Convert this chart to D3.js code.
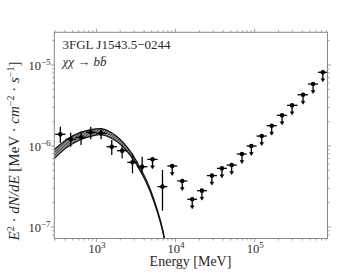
<!DOCTYPE html>
<html><head><meta charset="utf-8">
<script src="https://cdn.jsdelivr.net/npm/d3@7"></script>
<style>
html,body{margin:0;padding:0;background:#fff;}
</style></head>
<body><svg id="c" width="363" height="273"></svg>
<script>
// ---- data ----
const energy = [350, 473, 640, 847, 1146, 1563, 2114, 2858, 3784, 5117, 6839, 9078, 12162, 16255, 21528, 28774, 38548, 51168, 69024, 90782, 122744, 164059, 221820, 297167, 408319, 547016, 726106];
const flux = [1.393e-6, 1.211e-6, 1.279e-6, 1.476e-6, 1.436e-6, 9.80e-7, 8.75e-7, 6.29e-7, 5.55e-7, 6.84e-7, 3.15e-7, 5.66e-7, 3.70e-7, 2.20e-7, 2.81e-7, 4.31e-7, 5.30e-7, 5.82e-7, 7.96e-7, 1.0e-6, 1.327e-6, 1.782e-6, 2.393e-6, 3.177e-6, 4.295e-6, 5.821e-6, 8.13e-6];
const fluxHigh = [1.730e-6, 1.459e-6, 1.503e-6, 1.730e-6, 1.656e-6, 1.186e-6, 1.028e-6, 8.13e-7, 7.38e-7, null, 5.06e-7, null, null, null, null, null, null, null, null, null, null, null, null, null, null, null, null];
const fluxLow = [1.099e-6, 9.82e-7, 1.028e-6, 1.211e-6, 1.211e-6, 7.74e-7, 7.05e-7, 4.60e-7, 4.60e-7, null, 1.59e-7, null, null, null, null, null, null, null, null, null, null, null, null, null, null, null, null];
const upperLimit = [false, false, false, false, false, false, false, false, false, true, false, true, true, true, true, true, true, true, true, true, true, true, true, true, true, true, true];
// model curve (chi chi -> b bbar)
const modelE = [294, 426, 627, 925, 1125, 1365, 1828, 2449, 2965, 3606, 4385, 5309, 6457, 7261, 7499];
const modelF = [7.96e-7, 1.079e-6, 1.327e-6, 1.476e-6, 1.503e-6, 1.435e-6, 1.211e-6, 9.10e-7, 7.05e-7, 5.06e-7, 3.47e-7, 2.15e-7, 1.16e-7, 7.05e-8, 5.6e-8];
const modelBandDex = [0.055, 0.05, 0.045, 0.04, 0.038, 0.036, 0.032, 0.027, 0.022, 0.018, 0.016, 0.014, 0.013, 0.012, 0.012];
const xMajorTicks = [1e3, 1e4, 1e5];
const xMajorLabels = ["3", "4", "5"];
const yMajorTicks = [1e-7, 1e-6, 1e-5];
const yMajorLabels = ["\u22127", "\u22126", "\u22125"];
const sourceName = "3FGL J1543.5\u22120244";
const xTitle = "Energy [MeV]";

// ---- drawing ----
const FONT = "Liberation Serif";
const TXT = "#2a2a2a";
const svg = d3.select("#c");
const L = 54.3, R = 327.5, T = 32.3, B = 238.5;
const x = d3.scaleLog().domain([Math.pow(10, 2.468), Math.pow(10, 5.92)]).range([L, R]);
const y = d3.scaleLog().domain([Math.pow(10, -7.142), Math.pow(10, -4.596)]).range([B, T]);
const axisCol = "#888";

const defs = svg.append("defs");
defs.append("clipPath").attr("id", "clip").append("rect")
  .attr("x", L).attr("y", T).attr("width", R - L).attr("height", B - T);
const pat = defs.append("pattern").attr("id", "hatch").attr("patternUnits", "userSpaceOnUse")
  .attr("width", 3).attr("height", 3);
pat.append("rect").attr("width", 3).attr("height", 3).attr("fill", "#8a8a8a");
pat.append("path").attr("d", "M0,3L3,0").attr("stroke", "#333").attr("stroke-width", 0.7);

// model band
const band = modelE.map((e, i) => ({e, f: modelF[i], lo: modelF[i] / Math.pow(10, modelBandDex[i]), hi: modelF[i] * Math.pow(10, modelBandDex[i])}));
const g = svg.append("g").attr("clip-path", "url(#clip)");
g.append("path").datum(band)
  .attr("d", d3.area().x(d => x(d.e)).y0(d => y(d.lo)).y1(d => y(d.hi)).curve(d3.curveCatmullRom))
  .attr("fill", "url(#hatch)").attr("stroke", "none");
["lo", "hi"].forEach(k => {
  g.append("path").datum(band)
    .attr("d", d3.line().x(d => x(d.e)).y(d => y(d[k])).curve(d3.curveCatmullRom))
    .attr("fill", "none").attr("stroke", "#111").attr("stroke-width", 1.2);
});

// data points
const pts = energy.map((e, i) => {
  const lo = i > 0 ? Math.sqrt(energy[i - 1] * e) : e * e / Math.sqrt(energy[i + 1] * e);
  const hi = i < energy.length - 1 ? Math.sqrt(energy[i + 1] * e) : e * e / Math.sqrt(energy[i - 1] * e);
  return {e, f: flux[i], fl: fluxLow[i], fh: fluxHigh[i], ul: upperLimit[i], elo: lo, ehi: hi};
});
const pg = svg.append("g").attr("stroke", "#000").attr("stroke-width", 1.3);
pts.forEach(p => {
  const cx = x(p.e), cy = y(p.f);
  pg.append("line").attr("x1", x(p.elo)).attr("x2", x(p.ehi)).attr("y1", cy).attr("y2", cy);
  if (p.ul) {
    const len = 9;
    pg.append("line").attr("x1", cx).attr("x2", cx).attr("y1", cy).attr("y2", cy + len - 1.5);
    pg.append("path").attr("d", `M${cx - 1.8},${cy + len - 2.5}L${cx + 1.8},${cy + len - 2.5}L${cx},${cy + len + 0.5}Z`)
      .attr("fill", "#000").attr("stroke-width", 0.6);
  } else {
    pg.append("line").attr("x1", cx).attr("x2", cx).attr("y1", y(p.fh)).attr("y2", y(p.fl));
  }
  pg.append("circle").attr("cx", cx).attr("cy", cy).attr("r", 2.3).attr("fill", "#000").attr("stroke", "none");
});

// frame
svg.append("rect").attr("x", L).attr("y", T).attr("width", R - L).attr("height", B - T)
  .attr("fill", "none").attr("stroke", axisCol).attr("stroke-width", 1);

// ticks
function minors(domain) {
  const out = [];
  const a = Math.floor(Math.log10(domain[0])), b = Math.ceil(Math.log10(domain[1]));
  for (let n = a; n <= b; n++) for (let k = 2; k <= 9; k++) {
    const v = k * Math.pow(10, n);
    if (v >= domain[0] && v <= domain[1]) out.push(v);
  }
  return out;
}
const tg = svg.append("g").attr("stroke", axisCol).attr("stroke-width", 0.8);
const majL = 3.5, minL = 2;
xMajorTicks.forEach(v => {
  tg.append("line").attr("x1", x(v)).attr("x2", x(v)).attr("y1", B).attr("y2", B + majL);
  tg.append("line").attr("x1", x(v)).attr("x2", x(v)).attr("y1", T).attr("y2", T - majL);
});
minors(x.domain()).forEach(v => {
  tg.append("line").attr("x1", x(v)).attr("x2", x(v)).attr("y1", B).attr("y2", B + minL);
  tg.append("line").attr("x1", x(v)).attr("x2", x(v)).attr("y1", T).attr("y2", T - minL);
});
yMajorTicks.forEach(v => {
  tg.append("line").attr("x1", L).attr("x2", L - majL).attr("y1", y(v)).attr("y2", y(v));
  tg.append("line").attr("x1", R).attr("x2", R + majL).attr("y1", y(v)).attr("y2", y(v));
});
minors(y.domain()).forEach(v => {
  tg.append("line").attr("x1", L).attr("x2", L - minL).attr("y1", y(v)).attr("y2", y(v));
  tg.append("line").attr("x1", R).attr("x2", R + minL).attr("y1", y(v)).attr("y2", y(v));
});

// tick labels
xMajorTicks.forEach((v, i) => {
  const t = svg.append("text").attr("x", x(v) + 0.5).attr("y", 252.5).attr("text-anchor", "middle")
    .attr("font-family", FONT).attr("font-size", 12.5).attr("fill", TXT);
  t.append("tspan").text("10");
  t.append("tspan").attr("dy", -5).attr("font-size", 9).text(xMajorLabels[i]);
});
yMajorTicks.forEach((v, i) => {
  const t = svg.append("text").attr("x", 50.5).attr("y", y(v) + 5).attr("text-anchor", "end")
    .attr("font-family", FONT).attr("font-size", 12.5).attr("fill", TXT);
  t.append("tspan").text("10");
  t.append("tspan").attr("dy", -5).attr("font-size", 9).text(yMajorLabels[i]);
});

// annotation
svg.append("text").attr("x", 62.5).attr("y", 49).attr("font-family", FONT).attr("font-size", 13)
  .attr("fill", TXT).text(sourceName);
const a2 = svg.append("text").attr("x", 62.5).attr("y", 66).attr("font-family", FONT)
  .attr("font-size", 13).attr("fill", TXT);
a2.append("tspan").attr("font-style", "italic").text("\u03c7\u03c7");
a2.append("tspan").text(" \u2192 ");
a2.append("tspan").attr("font-style", "italic").text("bb\u0304");

// axis titles
svg.append("text").attr("x", 190.5).attr("y", 266).attr("text-anchor", "middle")
  .attr("font-family", FONT).attr("font-size", 14).attr("fill", TXT).text(xTitle);
const yt = svg.append("text").attr("transform", "translate(18.5,151) rotate(-90)")
  .attr("text-anchor", "middle").attr("font-family", FONT).attr("font-size", 15).attr("fill", TXT);
yt.append("tspan").attr("font-style", "italic").text("E");
yt.append("tspan").attr("dy", -5).attr("font-size", 10).text("2");
yt.append("tspan").attr("dy", 5).text(" \u00b7 ");
yt.append("tspan").attr("font-style", "italic").text("dN/dE");
yt.append("tspan").text(" [MeV \u00b7 ");
yt.append("tspan").attr("font-style", "italic").text("cm");
yt.append("tspan").attr("dy", -5).attr("font-size", 10).text("\u22122");
yt.append("tspan").attr("dy", 5).text(" \u00b7 ");
yt.append("tspan").attr("font-style", "italic").text("s");
yt.append("tspan").attr("dy", -5).attr("font-size", 10).text("\u22121");
yt.append("tspan").attr("dy", 5).text("]");
</script></body></html>
